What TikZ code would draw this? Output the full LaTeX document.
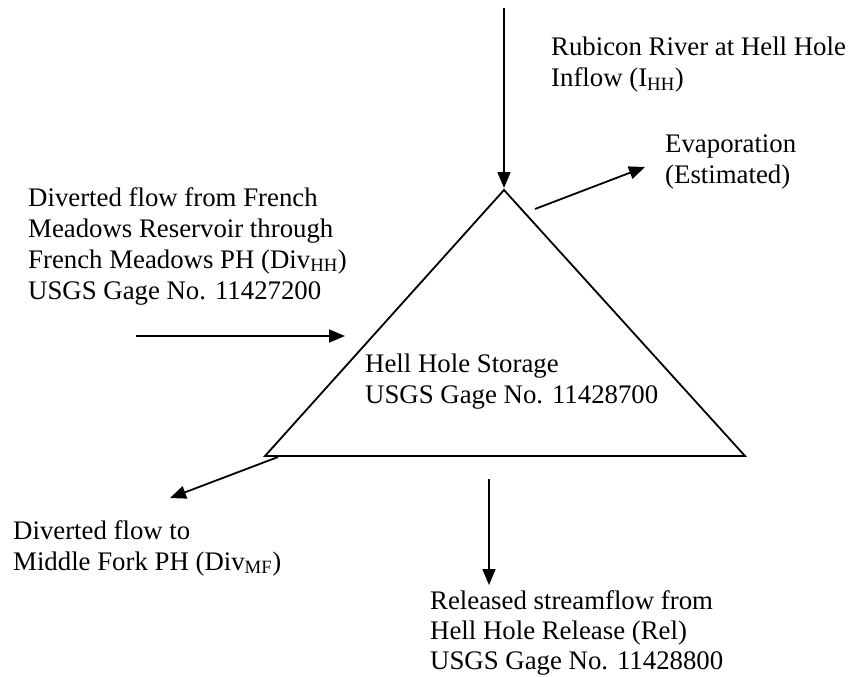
\documentclass[tikz,border=0pt]{standalone}
\usepackage{fontspec}
\setmainfont{Liberation Serif}
\usetikzlibrary{arrows.meta}
\begin{document}
\begin{tikzpicture}[
    x=1pt, y=-1pt,
    font=\fontsize{26.8}{31}\selectfont,
    lbl/.style={anchor=north west, inner sep=0pt, align=left},
    flow/.style={-{Triangle[length=16pt, width=13pt]}, line width=1.8pt},
    tank/.style={draw, line width=1.8pt, line join=miter}
]
\useasboundingbox (0,0) rectangle (859,677);

\coordinate (apex) at (504,190);
\coordinate (bl) at (265,456);
\coordinate (br) at (745,456);
\draw[tank] (apex) -- (bl) -- (br) -- cycle;

\node[lbl] (rub) at (551,37) {Rubicon River at Hell Hole\\Inflow (I\textsubscript{HH})};
\node[lbl] (evap) at (665,135) {Evaporation\\(Estimated)};
\node[lbl] (fm) at (28,187) {Diverted flow from French\\Meadows Reservoir through\\French Meadows PH (Div\textsubscript{HH})\\USGS Gage No. 11427200};
\node[lbl] (hh) at (365,354) {Hell Hole Storage\\USGS Gage No. 11428700};
\node[lbl] (mf) at (13,520) {Diverted flow to\\Middle Fork PH (Div\textsubscript{MF})};
\node[lbl, font=\fontsize{26.8}{30}\selectfont] (rel) at (430,590) {Released streamflow from\\Hell Hole Release (Rel)\\USGS Gage No. 11428800};

\coordinate (rubin) at (504,8);
\coordinate (rubend) at (504,188);
\coordinate (evapin) at (535,209);
\coordinate (evapend) at (645,167);
\coordinate (fmin) at (136,336);
\coordinate (fmend) at (345,336);
\coordinate (mfin) at (278,457);
\coordinate (mfend) at (170,498);
\coordinate (relin) at (489,479);
\coordinate (relend) at (489,585);

\draw[flow] (rubin) -- (rubend);
\draw[flow] (evapin) -- (evapend);
\draw[flow] (fmin) -- (fmend);
\draw[flow] (mfin) -- (mfend);
\draw[flow] (relin) -- (relend);
\end{tikzpicture}
\end{document}
